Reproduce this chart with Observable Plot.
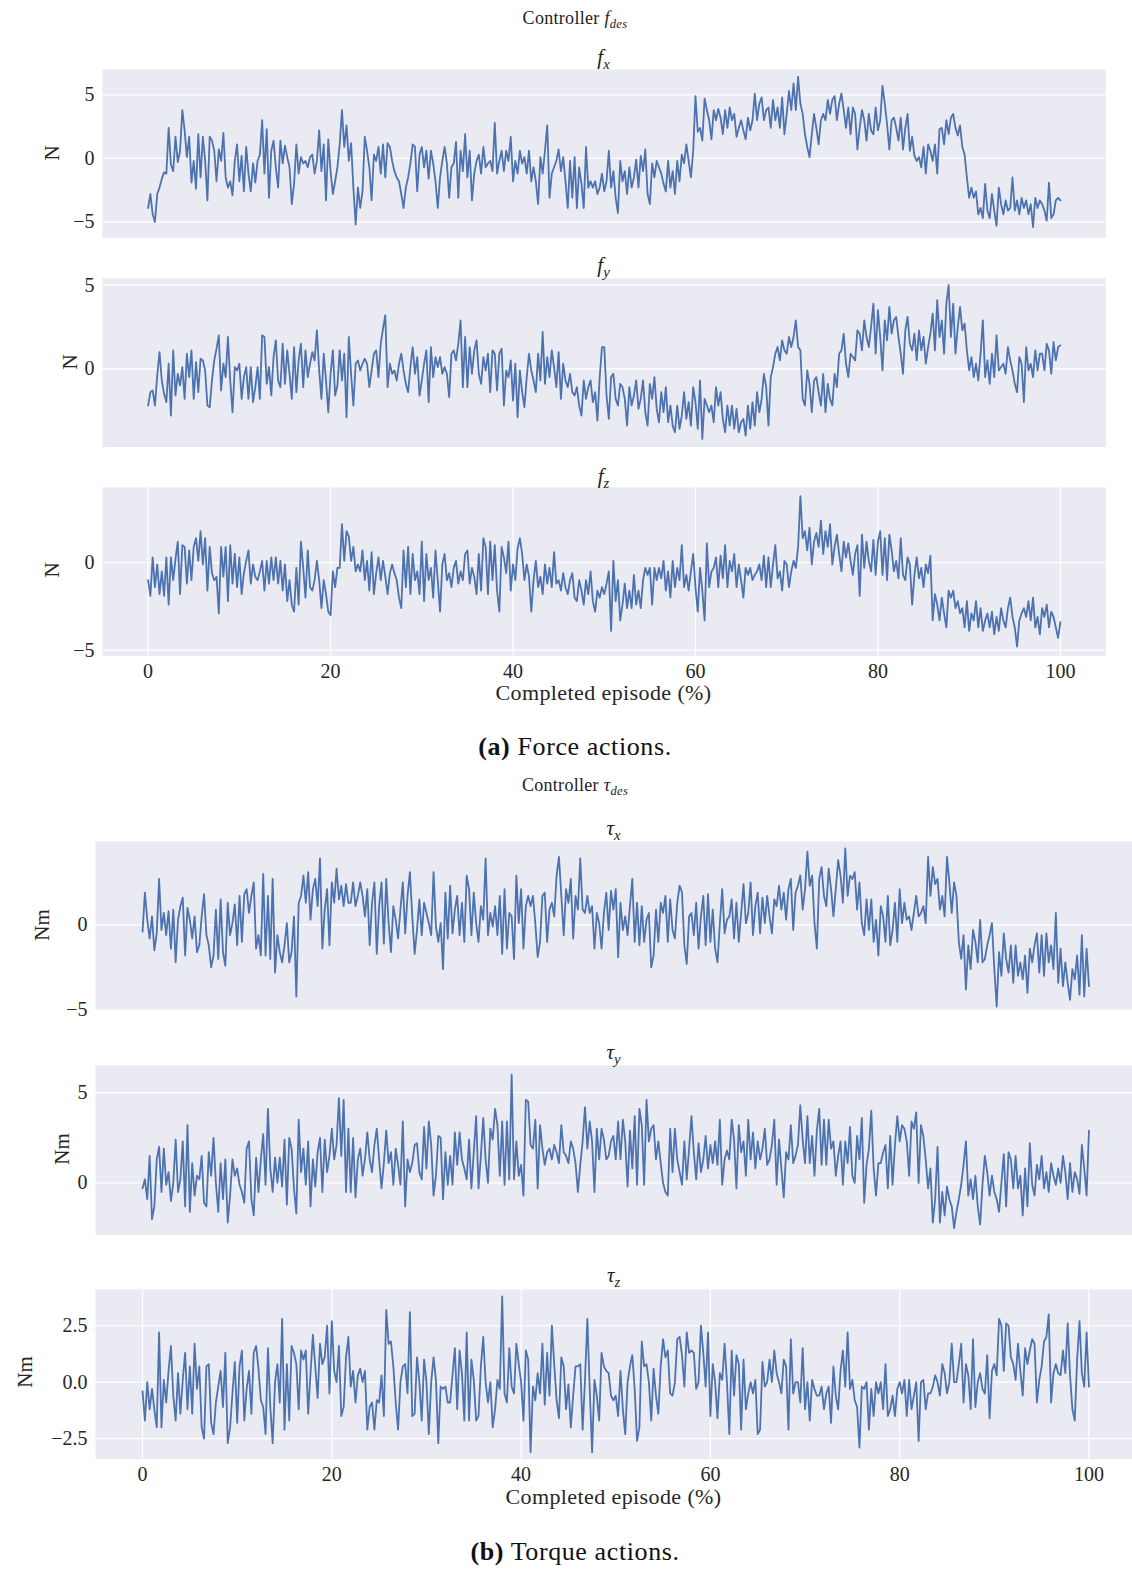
<!DOCTYPE html>
<html><head><meta charset="utf-8">
<script src="https://cdn.jsdelivr.net/npm/d3@7"></script>
<script src="https://cdn.jsdelivr.net/npm/@observablehq/plot@0.6"></script>
<style>
html,body{margin:0;padding:0;background:#fff;}
#root{position:relative;width:1132px;height:1571px;overflow:hidden;font-family:"Liberation Serif","Times New Roman",serif;color:#262626;}
.t{position:absolute;transform:translate(-50%,-50%);white-space:nowrap;line-height:1;}
.v{position:absolute;transform:translate(-50%,-50%) rotate(-90deg);white-space:nowrap;line-height:1;}
.pl{position:absolute;left:0;}
sub{font-size:70%;vertical-align:-0.35em;line-height:0;}
</style></head><body><div id="root"></div>
<script>
// ---- data (values sampled every 0.25 % of the episode) ----
const fx = [
-3.9,-2.8,-4.4,-5.0,-2.8,-2.3,-1.6,-1.1,-1.2,2.4,-0.5,-1.0,1.7,-0.3,0.6,3.8,2.2,0.1,1.7,-1.9,
-0.2,-2.4,1.9,-1.5,1.7,-0.2,-3.3,1.7,1.4,0.6,-1.8,0.7,-0.2,2.0,-1.5,-2.3,-1.8,-2.9,-0.2,1.1,
-1.8,0.2,-2.6,0.9,-1.2,-2.6,-0.4,-1.9,-0.2,0.3,3.0,-1.2,2.3,-3.1,0.6,1.4,-0.7,-2.3,1.4,-0.4,
1.0,0.1,-0.7,-3.6,-2.0,1.1,-1.2,0.1,-0.4,-0.2,-0.7,0.1,0.3,-1.2,-0.2,2.2,-1.0,1.1,-3.3,1.5,
-1.0,-2.8,-1.8,-0.7,1.1,3.8,0.9,2.6,-0.2,1.2,-2.3,-5.2,-2.3,-3.9,-2.6,1.7,0.6,-0.7,-3.3,0.3,
-0.2,0.9,-1.2,1.1,-1.5,1.2,0.9,-0.2,-1.0,-1.5,-1.8,-2.8,-3.9,-2.3,-1.5,-0.4,1.1,0.9,-2.6,0.3,
0.9,-0.7,0.6,-1.6,0.6,-0.4,-1.8,-3.9,-1.5,-0.2,0.9,-0.4,-3.1,-0.7,-0.4,1.3,-3.1,0.6,-1.0,1.9,
-1.5,0.6,-3.3,-1.2,-0.2,0.3,-1.2,0.9,-0.7,-0.4,-0.2,-1.0,2.8,-1.2,-0.2,0.6,-1.0,0.6,-0.2,1.7,
-1.8,-0.2,-1.2,0.6,-0.4,0.1,-1.2,0.6,-1.8,-0.7,-1.8,-3.6,0.1,-1.2,0.6,2.6,-3.1,-1.2,-0.7,-0.2,
0.7,-1.0,0.1,-1.8,-3.9,-0.2,-3.1,0.1,-3.9,-0.7,-2.0,-3.9,0.9,-2.3,-1.8,-2.3,-1.8,-2.8,-2.3,-1.2,
-2.6,-1.8,0.6,-2.3,-1.0,-3.1,-4.3,-0.2,-1.8,-1.0,-2.8,-0.7,-2.3,-1.5,-0.1,-2.3,0.2,-1.0,0.7,-2.8,
-3.6,-0.4,-1.5,-0.2,-0.7,-1.2,-2.0,-2.6,-0.2,-2.3,-1.0,-2.8,-0.2,-1.8,0.3,-0.4,1.1,-0.2,-1.5,0.6,
4.9,2.1,2.4,1.4,4.7,3.8,3.0,1.5,3.8,3.0,3.9,3.2,1.9,3.8,2.4,4.0,3.0,3.5,1.7,2.4,
3.0,2.2,1.5,3.2,2.2,3.0,5.1,3.0,4.3,4.8,3.0,3.8,4.0,2.4,4.6,3.0,4.0,2.4,4.8,1.9,
3.5,5.3,3.8,5.9,3.8,6.4,4.3,3.5,1.9,0.9,0.1,1.9,3.5,2.4,1.1,3.0,3.5,3.0,4.6,3.5,
4.6,4.9,3.0,4.3,5.1,3.8,2.4,4.0,1.9,4.0,3.5,0.7,2.4,3.8,3.0,1.4,3.5,2.2,1.9,4.0,
2.2,3.0,5.7,4.3,2.7,0.7,3.0,3.2,2.4,1.4,3.2,0.7,2.4,3.5,0.6,1.7,0.2,-0.2,0.1,-0.7,
0.9,-1.2,1.1,0.6,-0.2,1.1,-1.2,2.3,2.4,1.1,3.0,1.9,3.2,3.5,2.4,1.8,2.6,0.9,0.3,-1.5,
-3.1,-2.3,-3.1,-2.6,-4.4,-3.9,-4.7,-2.0,-4.1,-4.7,-2.8,-4.1,-5.3,-2.3,-3.6,-4.4,-3.3,-4.1,-3.9,-1.5,
-4.1,-3.3,-4.4,-3.1,-3.9,-3.3,-4.4,-3.6,-5.4,-3.1,-3.9,-3.3,-3.6,-4.1,-4.9,-1.9,-4.7,-4.4,-3.3,-3.1,
-3.3];
const fy = [
-2.2,-1.4,-1.3,-2.2,-0.4,1.0,-0.7,-1.5,-2.0,0.3,-2.8,1.1,-1.6,-0.3,-1.0,0.1,-1.8,0.9,-0.5,1.1,
-1.8,0.4,-1.4,0.6,0.5,-0.1,-2.2,-2.3,-0.7,0.5,1.2,2.0,-1.3,0.3,-0.5,1.9,-0.7,-2.6,0.1,-0.1,
0.3,-1.8,-0.5,0.1,-1.8,0.1,-2.0,-1.1,0.1,-1.8,2.0,1.9,-0.9,0.1,-1.6,0.7,1.7,-0.7,-1.1,1.5,
-0.9,1.1,-0.3,-1.8,1.3,-1.4,0.5,1.5,-1.1,1.1,-0.5,0.3,1.0,0.5,2.3,-0.1,-1.8,0.9,-0.7,-2.6,
-0.3,1.1,-1.6,-1.0,1.1,-0.7,0.9,-2.9,1.9,-0.3,-2.2,0.3,0.5,-0.1,0.3,0.6,0.3,-1.1,-0.1,0.9,
1.1,-0.5,1.5,2.4,3.2,-1.1,0.3,-0.3,-0.1,-0.7,0.3,0.9,-0.1,-0.9,-1.4,0.1,1.3,-0.3,0.7,-1.6,
-0.7,0.3,1.1,-2.0,1.3,-0.5,0.7,0.1,0.7,-0.3,0.1,-0.3,-1.7,0.9,1.1,0.5,1.5,2.9,-1.1,1.9,
-1.1,1.3,-0.3,1.1,1.7,-0.3,-0.9,0.7,-0.1,0.9,-1.4,1.1,0.9,-1.3,0.9,1.2,-2.2,-0.1,-0.5,0.5,
-1.9,0.3,-2.9,-0.1,-1.4,-2.3,-0.5,0.9,-0.1,-0.7,-1.4,0.9,-0.7,2.2,-0.9,0.7,-0.5,1.1,0.1,-1.1,
1.0,-1.8,0.3,-0.7,-1.1,-0.3,-1.4,-1.6,-1.1,-2.2,-2.8,-0.7,-1.8,-1.1,-0.7,-2.0,-1.4,-3.1,-0.5,1.3,
1.3,-1.6,-3.0,-0.5,-0.3,-1.8,-2.2,-0.9,-1.1,-1.8,-3.4,-1.1,-2.2,-1.6,-0.7,-2.4,-1.8,-0.7,-2.6,-3.4,
-0.9,-1.8,-0.5,-2.4,-3.2,-1.4,-2.6,-1.1,-3.2,-2.2,-3.4,-3.8,-2.2,-3.6,-2.8,-1.4,-3.0,-2.0,-3.4,-1.1,
-2.0,-3.6,-0.7,-4.2,-1.8,-2.2,-2.6,-2.2,-3.2,-1.1,-2.2,-1.4,-3.0,-3.8,-2.2,-3.4,-2.2,-3.6,-2.4,-3.8,
-3.2,-3.0,-4.0,-2.2,-3.6,-2.0,-3.4,-1.4,-2.6,-1.8,-0.3,-1.1,-3.4,-0.5,0.1,0.9,1.3,0.5,1.7,1.1,
0.9,1.9,1.3,1.9,2.9,1.3,1.1,-1.8,-2.2,-0.1,-0.9,-2.6,-0.7,-0.5,-1.4,-2.2,-0.3,-2.6,-0.9,-1.8,
-2.2,-0.3,-1.1,0.9,1.1,2.1,0.3,-0.5,0.9,0.7,0.5,2.3,2.1,1.1,2.9,1.9,1.3,2.5,3.9,0.9,
3.5,1.9,-0.1,2.9,1.7,3.7,2.1,2.9,3.1,1.9,0.9,-0.3,2.3,3.1,1.5,1.1,2.1,0.5,2.3,1.1,
1.9,0.3,1.3,2.1,3.3,1.1,4.1,1.9,2.9,0.9,3.9,5.0,1.9,3.9,0.9,2.5,3.7,2.3,2.7,1.1,
-0.1,0.7,-0.5,0.3,-0.7,0.9,2.9,-0.5,0.5,-0.9,0.9,-0.5,2.0,-0.1,0.1,0.3,-0.3,1.3,0.5,-0.1,
-0.9,-1.4,0.7,0.3,-2.0,1.3,-0.1,0.3,-0.5,1.1,-0.1,0.9,0.9,-0.1,1.5,1.1,-0.3,1.6,0.5,1.3,
1.4];
const fz = [
-1.0,-1.9,0.3,-1.4,-0.1,-1.8,-0.5,-1.9,0.3,-2.4,0.3,-1.0,0.2,1.2,-1.8,1.0,0.9,-1.2,0.7,-1.0,
0.9,1.4,0.1,1.8,-0.1,1.4,-1.6,0.9,-0.6,-1.0,-0.8,-2.9,0.9,-0.8,0.9,-2.2,1.0,-1.2,0.5,-1.4,
0.3,-1.8,-0.6,0.1,0.7,-1.2,-0.1,-0.8,-1.0,-0.5,0.1,-1.6,0.1,-1.2,0.3,-1.0,0.3,-1.2,0.1,-1.6,
-0.1,-2.2,-1.0,-2.4,-2.8,-0.3,-2.4,1.2,-0.3,-2.0,0.7,-1.4,-1.6,-1.0,0.1,-1.0,-2.6,-1.0,-1.8,-2.8,
-3.0,-0.5,-1.4,-0.3,-0.3,2.2,0.1,1.8,1.5,0.1,0.9,-0.5,-0.1,-0.5,0.7,-1.0,0.1,-1.6,0.6,-1.8,
-0.6,0.3,-1.0,0.1,-0.8,-1.8,-0.6,-0.1,-0.6,-1.0,-2.0,-2.6,0.7,-1.4,0.9,-1.8,0.5,-1.0,-0.5,-1.8,
1.2,-2.2,0.5,-1.0,-0.3,-2.0,0.7,-1.0,-2.8,-0.1,0.5,-1.0,-0.6,-1.4,-0.3,0.1,-1.2,-0.5,-1.0,0.5,
0.7,-1.2,-0.3,-0.8,-1.8,0.5,-1.6,1.4,0.9,-1.8,1.2,-1.0,1.0,-1.6,-2.8,0.9,0.3,-0.6,1.2,-1.6,
-0.1,-1.0,0.8,1.4,0.5,-1.0,-0.1,-0.8,-2.8,-1.0,0.1,-1.4,-0.8,-1.8,-0.1,-1.2,-0.3,-1.4,0.6,-1.2,
-1.0,-1.6,-0.6,-1.4,-1.8,-1.0,-0.6,-2.0,-2.2,-1.0,-1.6,-2.4,-1.0,-1.8,-0.5,-2.2,-2.8,-1.6,-2.0,-1.4,
-1.8,-1.2,-0.5,-3.9,0.1,-2.2,-1.0,-3.3,-2.4,-1.2,-2.6,-1.6,-2.6,-0.7,-2.4,-1.6,-2.6,-1.0,-0.3,-0.7,
-0.3,-2.4,-0.3,-1.0,-0.3,-0.9,0.1,-1.6,-0.5,-2.0,0.1,-1.4,-0.3,-1.0,1.0,-1.4,-0.7,-1.6,-0.5,0.5,
-1.4,-2.8,-0.3,-1.6,-3.3,1.1,-1.4,-0.5,-0.3,0.3,-1.4,0.4,-0.9,1.0,-1.4,0.1,-0.5,0.5,-1.4,-0.1,
-1.0,-2.0,-0.3,-0.7,-0.3,-1.0,-0.7,-0.5,-0.1,-1.0,0.4,-1.4,0.3,-1.4,-0.1,1.0,-0.9,-0.5,-1.6,0.1,
-0.1,-1.4,-0.5,0.1,-0.3,0.9,3.8,1.4,1.8,0.7,2.0,-0.1,1.2,1.7,0.9,2.4,0.5,1.8,0.9,2.2,
-0.1,0.9,1.6,0.5,-0.5,1.2,0.3,1.1,0.1,-0.7,0.5,1.0,-1.9,1.6,-0.3,1.2,0.1,-0.5,1.3,-0.7,
1.2,1.8,-0.7,1.4,-1.0,1.6,0.7,-0.5,0.1,-0.9,1.4,-0.7,-1.0,0.3,-0.1,-2.4,-0.7,0.3,-0.9,-0.3,
-1.4,-0.1,-0.6,0.4,-3.3,-1.8,-2.4,-3.3,-2.0,-2.9,-3.7,-1.6,-2.0,-1.6,-2.6,-2.2,-2.9,-2.6,-3.7,-2.2,
-3.9,-2.9,-3.3,-2.2,-3.7,-2.6,-3.9,-3.3,-2.9,-3.7,-2.8,-4.1,-3.1,-3.9,-2.6,-3.3,-3.7,-2.6,-2.0,-3.1,
-3.7,-4.8,-3.3,-2.9,-2.6,-3.1,-2.2,-3.3,-2.0,-3.7,-3.1,-4.1,-2.6,-3.1,-2.4,-3.7,-2.8,-3.1,-3.7,-4.3,
-3.4];
const tx = [
-0.4,1.9,0.3,-0.8,0.5,-1.5,-0.5,2.7,-0.3,0.7,-0.6,0.8,-1.4,0.9,-2.2,0.3,1.1,1.6,-1.8,1.0,
0.3,-0.8,0.5,-1.6,-1.2,0.5,1.8,-0.6,-1.2,-2.5,-1.8,0.9,-2.0,1.5,-1.6,-2.4,1.3,-0.6,0.1,1.2,
-1.2,1.7,-1.0,1.8,2.1,0.7,1.7,2.5,-1.4,-0.6,-1.8,3.0,-1.8,1.7,-2.0,2.7,-2.8,-0.6,-1.6,-2.2,
-1.2,0.1,-2.2,-1.6,0.5,-4.2,1.3,1.7,2.9,1.3,3.1,0.3,2.1,2.7,1.1,3.9,-1.4,0.9,2.1,-1.2,
2.5,1.3,3.3,1.5,2.3,1.1,2.4,1.3,1.3,2.5,1.1,1.7,2.5,1.7,0.5,2.1,-1.2,1.3,2.5,-1.7,
1.1,2.5,-1.1,2.7,0.1,-1.6,1.1,0.3,-0.8,0.9,2.5,-0.5,1.7,3.1,0.5,-1.7,-0.3,1.5,-0.6,1.3,
0.7,0.1,-0.6,3.1,-0.1,-1.0,0.1,-2.6,1.9,-0.8,2.3,-0.5,0.9,1.7,-0.6,1.3,-1.0,2.9,2.1,-0.6,
1.9,0.1,-1.0,1.1,0.3,3.9,-0.6,0.7,-0.1,1.1,-0.6,1.7,-1.7,2.1,-1.4,0.7,0.5,-2.0,2.9,0.1,
2.1,-1.4,1.1,1.7,1.1,1.7,0.1,-1.9,-1.0,1.7,1.9,-1.0,0.9,1.3,0.5,2.9,4.0,1.7,-0.6,2.1,
1.3,2.7,-0.8,1.7,0.9,3.9,0.9,0.7,1.7,0.7,1.1,-1.4,0.7,0.1,-1.4,0.7,1.9,-0.3,2.0,0.9,
2.1,-1.9,1.3,-0.3,0.5,-0.6,1.1,2.7,-1.0,1.3,-1.2,1.1,-1.0,0.3,0.7,-2.5,-1.8,0.9,-1.0,1.3,
0.7,1.7,-1.0,1.5,-0.3,-0.8,1.3,2.3,1.9,-1.2,-2.3,0.5,0.7,-0.6,1.3,-1.4,0.5,1.7,-1.2,1.8,
-1.0,0.9,-1.4,-2.2,0.1,2.1,-0.5,0.3,0.5,1.5,-0.8,1.3,-1.0,0.7,2.4,0.1,0.7,2.5,-0.6,1.1,
1.9,-0.5,1.6,0.1,1.7,0.5,-0.5,1.5,1.1,2.3,0.9,1.9,0.3,2.1,2.7,-0.3,1.9,2.3,2.9,0.9,
2.1,4.3,2.3,2.9,0.1,-1.4,2.7,3.4,1.7,1.1,3.3,2.1,0.5,2.1,3.8,2.9,1.3,4.5,1.7,2.9,
2.7,3.1,0.9,2.5,0.1,-0.6,1.5,-0.3,1.5,-1.0,0.3,-1.8,1.1,0.5,-1.0,1.7,-1.2,-0.3,1.3,-1.0,
2.1,0.1,1.3,0.3,0.5,-0.3,0.7,1.7,0.5,0.7,1.1,0.1,4.0,1.7,3.4,2.4,2.7,0.9,1.7,0.5,
4.0,2.5,0.7,2.5,1.7,-1.0,-2.0,-0.6,-3.8,-1.2,-2.6,-0.3,-1.0,-2.2,0.3,-2.2,-2.0,-1.2,-0.6,0.1,
-2.6,-4.8,-1.6,-3.0,-0.5,-2.0,-2.8,-1.2,-3.4,-1.2,-3.0,-2.2,-3.2,-1.8,-4.0,-1.4,-2.2,-1.2,-0.5,-2.8,
-0.6,-3.0,-0.5,-2.2,-1.2,-2.6,0.7,-3.4,-1.4,-3.6,-2.2,-3.4,-4.4,-2.6,-3.2,-1.8,-4.1,-0.6,-4.2,-1.4,
-3.6];
const ty = [
-0.3,0.2,-0.9,1.5,-2.0,-1.3,1.3,2.0,-0.5,1.9,-0.1,0.6,-1.0,0.0,2.4,-0.5,0.2,2.3,-1.3,3.2,
-1.6,1.1,-0.7,0.4,0.2,1.5,-1.1,-1.3,1.7,0.4,2.5,0.0,-1.6,1.1,-0.9,1.3,-2.2,-0.7,1.3,0.4,
0.8,-0.1,-0.5,-1.1,1.9,2.3,-0.9,-1.8,1.4,-0.5,1.3,2.7,-0.1,4.1,0.8,-0.5,1.4,0.0,1.4,-0.2,
2.4,-1.2,2.5,1.9,-0.3,-1.7,3.5,0.6,1.9,-0.1,2.3,-1.3,1.3,-0.2,1.7,2.5,-0.5,2.4,0.6,1.5,
3.0,1.3,2.1,4.7,1.5,4.6,-0.5,3.0,-0.5,2.5,-0.8,1.3,1.9,0.4,1.3,2.8,1.3,0.6,2.1,3.0,
1.3,-0.3,1.1,2.9,1.1,1.7,-0.1,1.9,1.0,-0.1,3.4,-1.3,1.3,0.6,1.1,2.1,2.2,0.6,0.2,3.1,
0.8,3.4,2.1,-0.7,0.4,2.6,2.5,-0.9,1.7,-0.1,1.5,-0.1,2.8,1.0,2.8,1.3,0.8,0.2,2.4,-0.3,
1.7,3.7,-0.3,1.5,3.6,1.3,0.0,3.0,2.4,4.1,3.2,0.4,3.4,-0.1,3.4,0.2,6.0,0.2,2.3,0.4,
1.0,-0.7,4.6,4.5,2.1,1.9,3.5,-0.3,3.2,1.9,1.0,1.7,1.9,1.3,2.1,1.7,1.1,3.2,1.7,1.5,
1.1,2.3,1.9,1.1,-0.5,1.0,2.3,4.2,1.9,3.4,2.3,-0.5,3.0,1.3,3.0,2.4,1.3,1.5,2.3,2.6,
1.3,3.4,1.3,3.5,2.3,-0.2,2.9,0.8,3.7,-0.1,4.1,3.2,-0.1,4.6,2.3,3.0,3.2,1.3,2.3,1.1,
0.0,-0.5,-0.7,3.0,0.6,3.0,1.3,0.6,-0.1,2.3,0.2,1.9,3.7,1.7,0.2,2.2,0.6,1.3,2.6,0.8,
2.1,1.1,2.3,1.0,3.5,-0.1,1.3,1.8,1.3,3.5,2.4,-0.3,3.2,1.7,2.3,0.4,3.5,1.3,2.8,0.8,
2.3,1.3,1.9,3.0,1.0,1.3,2.1,3.5,-0.1,2.4,0.8,-0.8,1.7,1.3,3.2,1.1,1.5,2.1,4.3,2.4,
1.1,3.7,1.1,2.6,0.4,2.9,4.1,1.0,3.5,1.0,3.5,1.9,2.3,0.4,1.5,2.3,-0.1,2.3,1.1,3.1,
0.4,0.0,2.6,1.3,3.6,-1.1,1.0,1.9,4.0,0.8,-0.7,1.1,1.1,1.7,2.1,-0.3,2.6,-0.1,2.1,3.7,
2.3,3.2,3.0,2.3,0.4,3.4,3.0,3.9,0.0,3.2,2.6,1.3,-0.3,0.8,-2.2,-0.9,2.0,-2.2,-0.5,-1.8,
-0.2,-0.9,-1.3,-2.5,-1.6,-0.9,-0.1,1.0,2.3,-0.7,0.2,-0.9,0.4,-1.3,-2.3,-0.1,1.5,0.6,-0.7,0.4,
-0.5,-0.9,-1.6,0.0,1.6,-1.3,1.7,1.3,-0.3,1.5,-0.3,0.4,-1.8,0.8,-1.3,2.2,-0.1,-0.7,1.0,0.2,
1.5,-0.3,0.6,-0.5,1.1,0.4,-0.1,0.8,0.0,1.5,0.6,-0.9,1.1,-0.5,0.6,0.2,-0.6,2.1,0.8,-0.7,
2.9];
const tz = [
-0.4,-1.7,0.0,-1.2,-0.3,-1.2,-2.0,2.2,-2.0,0.1,-0.9,0.5,1.6,-0.6,-1.7,0.4,-1.4,0.1,1.3,-1.2,
0.7,-1.4,1.7,-0.3,0.7,-2.0,-2.5,0.7,0.8,-1.8,-2.3,-0.9,-0.2,0.5,-1.1,1.3,-2.7,-2.0,-0.5,0.9,
-1.8,0.7,1.4,-1.7,-0.3,0.5,-1.4,1.3,1.6,0.6,-0.8,-1.1,-2.3,1.5,-1.1,-2.7,0.0,0.8,-0.9,2.8,
-2.1,0.8,-1.7,1.6,1.3,0.8,-1.2,1.4,1.0,1.4,-1.4,0.4,2.1,0.7,-0.7,1.7,0.8,1.1,2.5,-0.5,
2.7,0.5,0.0,1.6,-1.5,-1.1,1.1,2.0,-0.2,0.5,-0.9,0.3,0.6,0.0,0.5,-2.1,-1.1,-0.9,-2.1,-0.8,
-0.9,0.3,-1.5,3.2,1.7,1.8,0.7,-0.9,-2.1,0.0,0.7,0.8,-0.5,3.1,-1.5,-1.4,1.1,0.0,-1.7,1.0,
0.0,-2.3,0.0,1.1,0.1,-2.7,-0.2,-0.3,-0.2,-0.9,-0.9,0.3,1.5,-1.2,1.4,0.4,-1.7,2.2,-1.7,1.0,
0.1,-1.7,-1.5,0.7,2.0,0.0,-0.9,0.0,-2.0,-1.2,0.1,-0.3,3.8,-0.5,-0.9,1.5,-0.2,-0.5,1.7,0.8,
0.0,-1.7,1.4,1.0,-3.1,-0.2,-0.8,0.4,-0.5,1.7,-1.0,1.3,-0.6,2.5,0.8,-0.8,-1.6,1.1,0.7,-1.2,
-0.1,-2.0,-0.6,0.7,0.7,0.8,-2.1,0.1,2.8,-0.3,-3.1,0.1,-0.6,-1.7,1.3,0.7,0.5,0.4,-0.6,-0.8,
-0.6,-1.5,0.5,-1.2,-2.3,0.0,0.7,1.2,-0.3,-2.6,-2.0,1.8,0.7,0.8,0.0,-1.7,0.6,-0.6,-1.4,0.7,
1.9,1.1,1.4,-0.5,-0.6,0.0,1.9,2.0,1.2,-0.2,2.2,1.3,1.4,1.3,-0.3,0.0,2.5,1.3,-0.2,2.2,
-1.5,0.8,0.0,-1.6,0.4,0.1,1.7,0.0,-2.3,1.4,-0.6,1.2,0.8,-2.1,1.0,-1.2,-0.5,0.0,-0.5,0.1,
-2.3,-2.1,0.9,-0.2,0.0,1.0,0.0,1.4,0.4,0.0,-0.5,1.0,0.7,-2.1,1.9,-0.5,0.0,0.0,-0.9,1.5,
-1.2,0.0,-1.7,0.1,-0.3,-0.6,-0.6,-0.2,-1.2,-0.5,-0.2,-1.8,0.7,-0.6,-1.2,0.5,1.4,-0.2,2.2,-0.3,
0.1,-0.8,-1.1,-2.9,-0.2,-0.3,0.0,-2.1,-0.3,-1.5,0.0,-0.5,0.0,-1.2,0.8,-1.5,-1.2,-0.6,-1.5,-0.3,
0.0,-0.5,0.1,-1.5,0.1,-1.2,-0.6,0.0,-2.6,0.0,0.1,-1.2,-0.5,-0.5,-0.2,0.3,0.0,-0.6,0.8,0.4,
-0.5,0.0,1.7,0.0,0.0,0.8,1.7,-0.9,0.8,0.3,-1.2,1.9,-1.1,0.0,0.4,-0.3,-0.5,1.2,-1.6,0.5,
0.8,0.3,2.8,2.5,0.5,2.6,2.5,1.1,0.8,0.1,1.7,0.5,-0.6,1.5,0.8,1.4,1.9,1.7,-0.9,0.1,
0.7,1.8,2.0,3.0,-0.9,0.4,0.8,0.4,0.3,1.4,0.4,2.6,0.3,-1.2,-1.7,1.0,2.7,0.4,-0.2,2.2,
-0.2];

// ---- tick labels ----
const xTicks = [0, 20, 40, 60, 80, 100];
const fxTicks = [-5, 0, 5];
const fyTicks = [0, 5];
const fzTicks = [-5, 0];
const txTicks = [-5, 0];
const tyTicks = [0, 5];
const tzTicks = [-2.5, 0, 2.5];

const root = document.getElementById("root");
const FONT = '"Liberation Serif","Times New Roman",serif';

function panel(vals, o) {
  const mt = 10, mb = o.showX ? 45 : 10;
  const n = vals.length;
  const data = vals.map((v, i) => ({x: i * 100 / (n - 1), y: v}));
  const svg = Plot.plot({
    width: 1132,
    height: (o.bottom - o.top) + mt + mb,
    marginTop: mt, marginBottom: mb,
    marginLeft: o.left, marginRight: 1132 - o.right,
    style: {fontFamily: FONT, fontSize: "20px", color: "#262626", background: "transparent", overflow: "visible"},
    x: o.showX
      ? {domain: o.xdom, ticks: xTicks, tickSize: 0, tickPadding: 8, label: null, tickFormat: d3.format("d")}
      : {domain: o.xdom, axis: null},
    y: {domain: o.ydom, ticks: o.yticks, tickSize: 0, tickPadding: 8, label: null, tickFormat: o.yfmt || d3.format("d")},
    marks: [
      Plot.frame({fill: "#EAEAF2", stroke: "none"}),
      Plot.gridY(o.yticks, {stroke: "white", strokeOpacity: 1, strokeWidth: 1.3}),
      o.gridX ? Plot.gridX(xTicks, {stroke: "white", strokeOpacity: 1, strokeWidth: 1.3}) : null,
      Plot.line(data, {x: "x", y: "y", stroke: "#4C72B0", strokeWidth: 1.8, strokeLinejoin: "round"})
    ]
  });
  const wrap = document.createElement("div");
  wrap.className = "pl";
  wrap.style.top = (o.top - mt) + "px";
  wrap.appendChild(svg);
  root.appendChild(wrap);
}

function text(html, x, y, size, cls = "t", extra = "") {
  const d = document.createElement("div");
  d.className = cls;
  d.style.left = x + "px";
  d.style.top = y + "px";
  d.style.fontSize = size + "px";
  if (extra) d.style.cssText += extra;
  d.innerHTML = html;
  root.appendChild(d);
}

const A = {left: 102, right: 1105.5, xdom: [-5, 105]};
panel(fx, {...A, top: 69, bottom: 237.5, ydom: [-6.26, 6.99], yticks: fxTicks});
panel(fy, {...A, top: 278, bottom: 446.5, ydom: [-4.68, 5.40], yticks: fyTicks});
panel(fz, {...A, top: 486.5, bottom: 655, ydom: [-5.33, 4.29], yticks: fzTicks, showX: true, gridX: true});

const B = {left: 95, right: 1132, xdom: [-4.97, 104.6]};
panel(tx, {...B, top: 840.5, bottom: 1010, ydom: [-5.06, 4.9], yticks: txTicks});
panel(ty, {...B, top: 1064.5, bottom: 1234, ydom: [-2.88, 6.5], yticks: tyTicks});
panel(tz, {...B, top: 1288.5, bottom: 1458, ydom: [-3.4, 4.1], yticks: tzTicks, yfmt: d3.format(".1f"), showX: true, gridX: true});

// ---- texts ----
text('Controller <i>f</i><sub><i>des</i></sub>', 575, 18, 18, "t", "color:#222;letter-spacing:0.3px;");
text('<i>f</i><sub><i>x</i></sub>', 603.5, 57, 21, "t", "color:#222;");
text('<i>f</i><sub><i>y</i></sub>', 603.5, 265, 21, "t", "color:#222;");
text('<i>f</i><sub><i>z</i></sub>', 603.5, 476, 21, "t", "color:#222;");
text('N', 52, 153, 21, "v");
text('N', 70, 362, 21, "v");
text('N', 52, 570, 21, "v");
text('Completed episode (%)', 603.5, 693, 22, "t", "letter-spacing:0.4px;");
text('<b>(a)</b> Force actions.', 575, 747, 26, "t", "color:#111;letter-spacing:0.6px;");

text('Controller <i>τ</i><sub><i>des</i></sub>', 575, 785, 18, "t", "color:#222;letter-spacing:0.3px;");
text('<i>τ</i><sub><i>x</i></sub>', 613.5, 828, 21, "t", "color:#222;");
text('<i>τ</i><sub><i>y</i></sub>', 613.5, 1052, 21, "t", "color:#222;");
text('<i>τ</i><sub><i>z</i></sub>', 613.5, 1275, 21, "t", "color:#222;");
text('Nm', 42, 925, 21, "v");
text('Nm', 62, 1149, 21, "v");
text('Nm', 25, 1372, 21, "v");
text('Completed episode (%)', 613.5, 1497, 22, "t", "letter-spacing:0.4px;");
text('<b>(b)</b> Torque actions.', 575, 1552, 26, "t", "color:#111;letter-spacing:0.6px;");
</script></body></html>
